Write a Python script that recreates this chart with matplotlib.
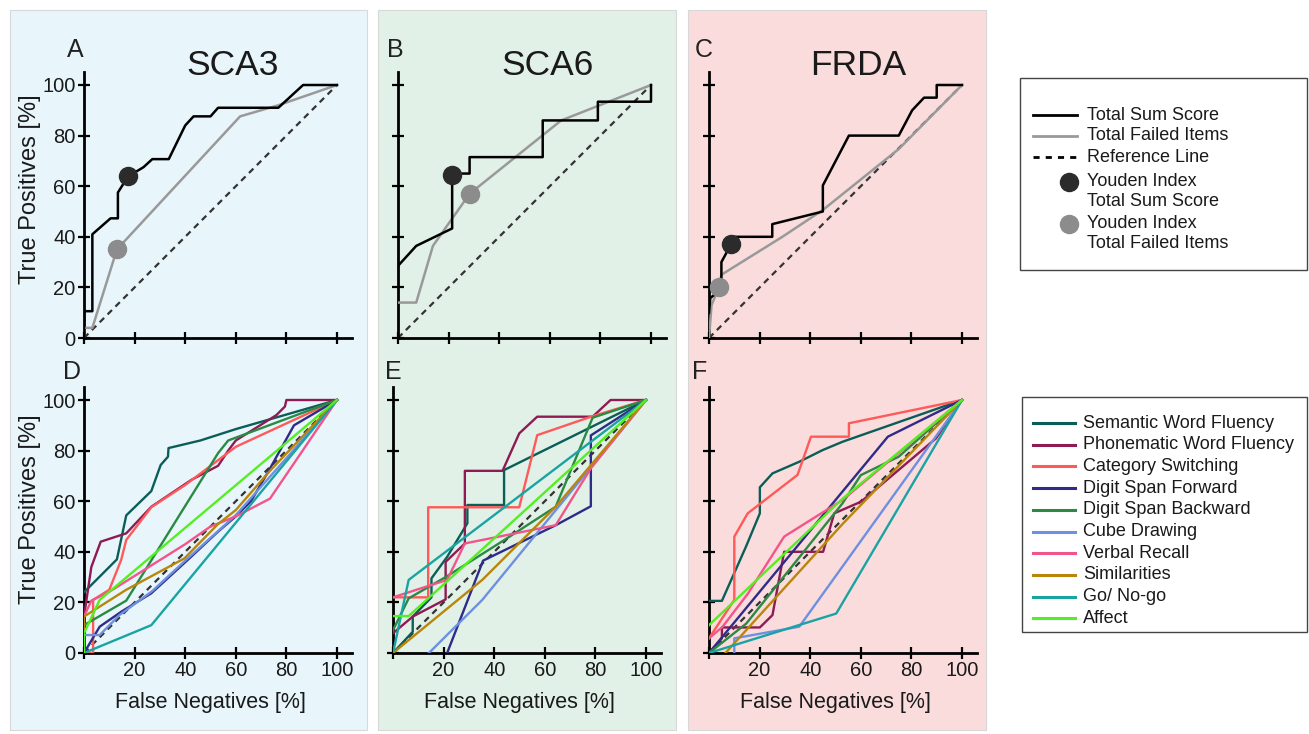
import matplotlib
matplotlib.use('Agg')
import matplotlib.pyplot as plt
from matplotlib.patches import Rectangle

plt.rcParams['font.family'] = ['Liberation Sans', 'DejaVu Sans']

W, H = 1309, 734

# --- total scores (upper row) ---
sca3_sum_x = [0, 0, 3.3, 3.3, 10.5, 13.4, 13.4, 17.5, 21, 23.5, 27, 33.5, 40, 43.3, 50, 53, 76.8, 86.6, 100]
sca3_sum_y = [0, 10.6, 10.6, 41, 47.3, 47.3, 57.5, 64, 66, 67.5, 70.7, 70.7, 84, 87.6, 87.6, 91, 91, 100, 100]
sca3_fail_x = [0, 0, 3.3, 13, 61.7, 76.8, 100]
sca3_fail_y = [0, 4, 4, 35, 87.6, 92, 100]
sca3_youden = [(17.5, 64), (13, 35)]

sca6_sum_x = [0, 7.2, 21.4, 21.4, 28.3, 28.3, 57.2, 57.2, 79, 79, 100, 100]
sca6_sum_y = [28.5, 36.4, 43.3, 65, 65, 71.5, 71.5, 86, 86, 93.4, 93.4, 100]
sca6_fail_x = [0, 7.2, 13.8, 28.3, 64.5, 100]
sca6_fail_y = [14, 14, 36.4, 57, 86, 100]
sca6_youden = [(21.4, 64.5), (28.5, 57)]

frda_sum_x = [0, 0.5, 2, 4.9, 4.9, 8.8, 8.8, 25, 25, 45, 45, 55.3, 75, 80.3, 85, 90, 90, 100]
frda_sum_y = [10, 15.8, 17, 20, 30, 37.2, 40, 40, 45, 50, 60.3, 80, 80, 90, 95, 95, 100, 100]
frda_fail_x = [0, 1, 3.9, 4.9, 29, 45, 75, 100]
frda_fail_y = [0, 13, 20, 25, 40, 50.6, 74.7, 100]
frda_youden = [(8.8, 37.2), (3.9, 20)]

# --- single items (lower row) ---
item_names = ["Semantic Word Fluency", "Phonematic Word Fluency", "Category Switching",
              "Digit Span Forward", "Digit Span Backward", "Cube Drawing", "Verbal Recall",
              "Similarities", "Go/ No-go", "Affect"]
item_colors = ['#0b5e57', '#8e1b52', '#ff5a5a', '#2e2c86', '#2a8a44',
               '#6f8fe0', '#f2558a', '#b8860b', '#1aa3a3', '#55ee22']

sca3_items = {
    "Semantic Word Fluency": ([0, 13, 16.7, 26.6, 30.3, 33.2, 33.4, 46, 60, 100],
                              [24, 37, 54.4, 64, 74.3, 77.6, 81, 84, 88.5, 100]),
    "Phonematic Word Fluency": ([0, 2.9, 6.6, 16.7, 26.6, 42.4, 53, 57, 60, 76, 79.4, 80, 100],
                                [14.4, 34, 44, 47.3, 57.8, 68.4, 74, 80, 84, 94, 97.4, 100, 100]),
    "Category Switching": ([0, 3.6, 3.6, 10, 14.7, 16.7, 26.6, 40, 60, 100],
                           [0, 0, 21, 25, 36.8, 44.7, 57.6, 66.4, 81.5, 100]),
    "Digit Span Forward": ([0, 6.2, 14.7, 26.6, 41, 53, 60, 66, 73, 83, 100],
                           [0, 10.4, 16.3, 23.6, 36.8, 48, 54, 60, 72, 90, 100]),
    "Digit Span Backward": ([0, 16.7, 53, 57, 100], [11, 20.7, 79, 84, 100]),
    "Cube Drawing": ([0, 6.2, 14, 27, 40, 60, 80, 100], [7.1, 7.1, 15, 24.5, 36.5, 54.5, 77, 100]),
    "Verbal Recall": ([0, 2.9, 10, 40, 50, 60, 73.5, 100], [14.4, 20.7, 24.2, 43, 50, 54, 61, 100]),
    "Similarities": ([0, 0, 16.7, 39.7, 53, 60, 73.5, 100], [0, 14.4, 25, 37.4, 51, 56.5, 72, 100]),
    "Go/ No-go": ([0, 26.6, 100], [0, 11, 100]),
    "Affect": ([0, 0, 6.2, 100], [0, 7.8, 21, 100]),
}

sca6_items = {
    "Semantic Word Fluency": ([0, 7.8, 7.8, 15.2, 15.2, 21.4, 29.4, 29.4, 43.9, 43.9, 100],
                              [0, 8.4, 14.4, 22, 29.5, 38, 51.3, 58.5, 58.5, 72.3, 100]),
    "Phonematic Word Fluency": ([0, 7.8, 20.8, 20.8, 28.4, 28.4, 43.3, 49.9, 57, 78.9, 86, 100],
                                [7.8, 14.4, 21.2, 36, 43.3, 72, 72, 86.8, 93.4, 93.4, 100, 100]),
    "Category Switching": ([0, 13.9, 13.9, 49.9, 57, 78.9, 100], [22, 22, 57.6, 57.6, 86.1, 93.6, 100]),
    "Digit Span Forward": ([21.4, 35.6, 64.3, 78.2, 78.2, 100], [0, 36.5, 50.5, 58, 86, 100]),
    "Digit Span Backward": ([0, 6.2, 20.8, 43.9, 64.3, 78.9, 100], [9, 21.6, 30, 44.6, 57.8, 93, 100]),
    "Cube Drawing": ([14.2, 35.3, 100], [0, 21, 100]),
    "Verbal Recall": ([0, 21.4, 28.4, 64.3, 78.2, 100], [22, 28.9, 43.3, 50.5, 73, 100]),
    "Similarities": ([0, 35.3, 64.3, 100], [0, 28.9, 57.8, 100]),
    "Go/ No-go": ([0, 6.2, 100], [0, 28.9, 100]),
    "Affect": ([0, 6.2, 20.8, 100], [14.6, 14.6, 27.8, 100]),
}

frda_items = {
    "Semantic Word Fluency": ([0, 5.1, 14.6, 20.1, 20.1, 25.1, 35.7, 44.9, 52.8, 100],
                              [20.6, 20.6, 42, 55.2, 65.5, 71, 75.6, 80.2, 83.5, 100]),
    "Phonematic Word Fluency": ([0, 5.1, 5.1, 20.1, 25.1, 29.7, 45.1, 49.5, 60.1, 89.7, 100],
                                [0, 5.8, 10.1, 10.1, 15, 40, 40, 55.2, 59.8, 84.8, 100]),
    "Category Switching": ([0, 10, 10, 15.3, 35, 40.3, 55.3, 55.3, 100],
                           [5.8, 21, 46, 55.2, 70.4, 85.5, 85.5, 90.8, 100]),
    "Digit Span Forward": ([0, 70.7, 100], [0, 85.5, 100]),
    "Digit Span Backward": ([0, 14.7, 52.8, 60, 75, 100], [0, 11.6, 59.2, 70.3, 77.6, 100]),
    "Cube Drawing": ([10, 10, 35.7, 100], [0, 5.8, 10.4, 100]),
    "Verbal Recall": ([0, 5.3, 15.4, 29.7, 52.8, 100], [5.8, 10.3, 23.5, 46, 60.5, 100]),
    "Similarities": ([6.5, 52.8, 100], [0, 51, 100]),
    "Go/ No-go": ([0, 50.3, 100], [0, 15.6, 100]),
    "Affect": ([0, 52.8, 100], [11, 61, 100]),
}

titles = ["SCA3", "SCA6", "FRDA"]
bg_colors = ['#e8f6fc', '#e1f1e8', '#fadcdc']

fig = plt.figure(figsize=(W / 100, H / 100), dpi=100)

# overlay in pixel coordinates for backgrounds, letters and legends
bg = fig.add_axes([0, 0, 1, 1], zorder=-1)
bg.set_xlim(0, W)
bg.set_ylim(H, 0)
bg.axis('off')
for (x0, x1), c in zip([(10, 367), (378, 676), (688, 986)], bg_colors):
    bg.add_patch(Rectangle((x0, 10), x1 - x0, 720, facecolor=c, edgecolor='none'))
    bg.add_patch(Rectangle((x0, 10), x1 - x0, 720, facecolor='none', edgecolor='#d8d8d8', lw=0.8))

for letter, (lx, ly) in zip("ABCDEF", [(75, 50), (395, 50), (704, 50), (72, 372), (393, 372), (700, 372)]):
    bg.text(lx, ly, letter, fontsize=18, color='#222222', ha='center', va='center')

TEXT = '#1a1a1a'
UX = 2.53


def make_axes(left_px, bottom_px):
    ax = fig.add_axes([left_px / W, (H - bottom_px) / H, 106 * UX / W, 105 * UX / H])
    ax.set_facecolor('none')
    ax.set_xlim(0, 106)
    ax.set_ylim(0, 105)
    for s in ['top', 'right']:
        ax.spines[s].set_visible(False)
    for s in ['left', 'bottom']:
        ax.spines[s].set_linewidth(2)
        ax.spines[s].set_color('black')
    ax.set_xticks(range(0, 101, 20))
    ax.set_yticks(range(0, 101, 20))
    ax.tick_params(direction='inout', length=8, width=1.6, colors='black',
                   labelsize=14.5, labelcolor=TEXT, pad=2)
    ax.set_xticklabels([])
    ax.set_yticklabels([])
    return ax


def ref_line(ax):
    ax.plot([0, 100], [0, 100], color='#333333', lw=1.6, dashes=(2.8, 2.2), zorder=2)


upper = [(sca3_sum_x, sca3_sum_y, sca3_fail_x, sca3_fail_y, sca3_youden),
         (sca6_sum_x, sca6_sum_y, sca6_fail_x, sca6_fail_y, sca6_youden),
         (frda_sum_x, frda_sum_y, frda_fail_x, frda_fail_y, frda_youden)]
lower = [sca3_items, sca6_items, frda_items]
lefts_up = [84, 398, 709]
lefts_lo = [84, 393, 709]

for i in range(3):
    sx, sy, fx, fy, yd = upper[i]
    ax = make_axes(lefts_up[i], 338)
    ref_line(ax)
    ax.plot(fx, fy, color='#999999', lw=1.8, zorder=3)
    ax.plot(sx, sy, color='black', lw=1.8, zorder=4)
    ax.plot(*yd[0], 'o', ms=13, color='#2b2b2b', zorder=5)
    ax.plot(*yd[1], 'o', ms=13, color='#8c8c8c', zorder=5)
    ax.text(0.556, 1.025, titles[i], transform=ax.transAxes, fontsize=25.5,
            color=TEXT, ha='center', va='center')
    if i == 0:
        ax.set_yticklabels([str(v) for v in range(0, 101, 20)])
        ax.set_ylabel('True Positives [%]', fontsize=17, color=TEXT)
        ax.yaxis.set_label_coords(-0.16, 0.56)

    ax2 = make_axes(lefts_lo[i], 653)
    items = lower[i]
    for name, col in zip(item_names, item_colors):
        xs, ys = items[name]
        ax2.plot(xs, ys, color=col, lw=1.7, zorder=3)
    ref_line(ax2)
    ax2.set_xticklabels([''] + [str(v) for v in range(20, 101, 20)])
    ax2.set_xlabel('False Negatives [%]', fontsize=15.5, color=TEXT)
    ax2.xaxis.set_label_coords(0.47, -0.145)
    if i == 0:
        ax2.set_yticklabels([str(v) for v in range(0, 101, 20)])
        ax2.set_ylabel('True Positives [%]', fontsize=17, color=TEXT)
        ax2.yaxis.set_label_coords(-0.16, 0.54)

# legend 1
bg.add_patch(Rectangle((1020, 78), 287, 192, facecolor='white', edgecolor='#444444', lw=1))
bg.plot([1033, 1077], [115, 115], color='black', lw=2)
bg.plot([1033, 1077], [136, 136], color='#999999', lw=2)
bg.plot([1033, 1077], [157, 157], color='black', lw=2, dashes=(2.2, 2.2))
bg.plot(1069, 182, 'o', ms=13, color='#2b2b2b')
bg.plot(1069, 224, 'o', ms=13, color='#8c8c8c')
for txt, ty in [("Total Sum Score", 115), ("Total Failed Items", 136), ("Reference Line", 157),
                ("Youden Index", 182), ("Total Sum Score", 202),
                ("Youden Index", 224), ("Total Failed Items", 244)]:
    bg.text(1087, ty, txt, fontsize=13, color=TEXT, va='center', ha='left')

# legend 2
bg.add_patch(Rectangle((1022, 397), 285, 235, facecolor='white', edgecolor='#444444', lw=1))
for k, (name, col) in enumerate(zip(item_names, item_colors)):
    ty = 423 + k * 21.7
    bg.plot([1033, 1075], [ty, ty], color=col, lw=2.2)
    bg.text(1083, ty, name, fontsize=13, color=TEXT, va='center', ha='left')

fig.savefig('out.png', dpi=100)
